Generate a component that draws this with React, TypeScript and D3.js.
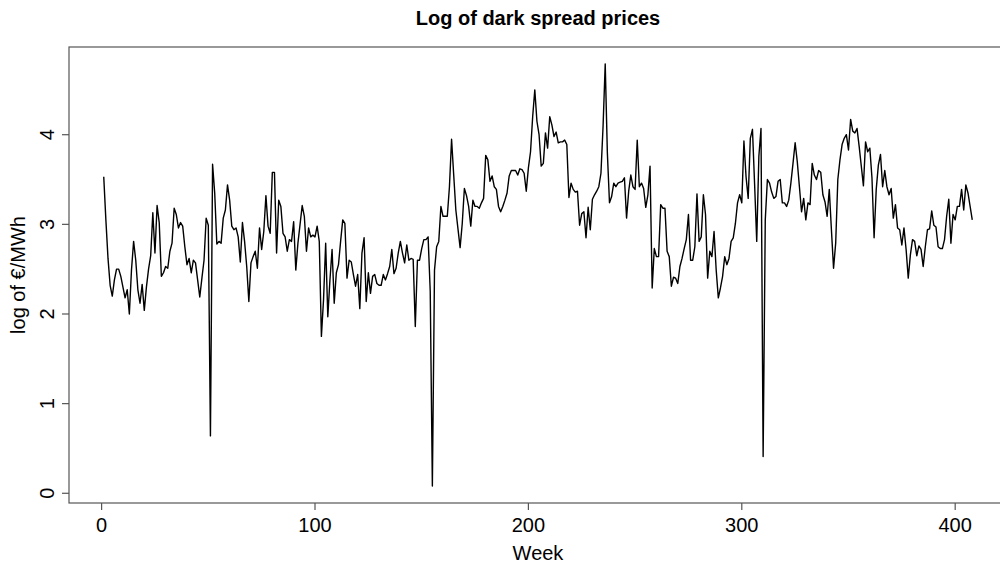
import React from "react";
import * as d3 from "d3";

// Weekly log dark spread prices (log of €/MWh), week 1 .. 408
const logSpread: number[] = [
  3.53, 3.05, 2.62, 2.32, 2.20, 2.38, 2.50, 2.50, 2.42, 2.30,
  2.18, 2.27, 2.00, 2.49, 2.81, 2.60, 2.27, 2.12, 2.33, 2.04,
  2.30, 2.50, 2.65, 3.13, 2.68, 3.21, 3.02, 2.42, 2.46, 2.53,
  2.51, 2.70, 2.79, 3.18, 3.11, 2.96, 3.02, 2.98, 2.75, 2.55,
  2.62, 2.46, 2.60, 2.57, 2.38, 2.19, 2.40, 2.60, 3.07, 2.99,
  0.64, 3.67, 3.35, 2.78, 2.81, 2.79, 3.07, 3.16, 3.44, 3.27,
  2.98, 2.94, 2.96, 2.86, 2.58, 3.02, 2.81, 2.53, 2.14, 2.57,
  2.64, 2.70, 2.51, 2.96, 2.72, 2.92, 3.32, 2.98, 2.90, 3.58,
  3.58, 2.68, 3.27, 3.20, 2.90, 2.86, 2.70, 2.83, 2.81, 3.03,
  2.49, 2.79, 3.00, 3.21, 3.09, 2.70, 2.96, 2.86, 2.88, 2.86,
  2.98, 2.81, 1.75, 2.16, 2.79, 1.97, 2.38, 2.72, 2.12, 2.46,
  2.55, 2.81, 3.05, 3.01, 2.40, 2.60, 2.58, 2.44, 2.31, 2.44,
  2.06, 2.68, 2.85, 2.14, 2.46, 2.23, 2.42, 2.44, 2.34, 2.32,
  2.32, 2.44, 2.38, 2.45, 2.53, 2.72, 2.45, 2.51, 2.68, 2.81,
  2.68, 2.57, 2.77, 2.60, 2.62, 2.61, 1.86, 2.60, 2.60, 2.73,
  2.83, 2.83, 2.86, 2.25, 0.08, 2.49, 2.75, 2.81, 3.20, 3.09,
  3.09, 3.09, 3.42, 3.95, 3.55, 3.16, 2.95, 2.74, 3.01, 3.40,
  3.32, 3.20, 2.98, 3.27, 3.20, 3.20, 3.18, 3.24, 3.29, 3.77,
  3.72, 3.48, 3.54, 3.42, 3.39, 3.20, 3.14, 3.20, 3.27, 3.35,
  3.54, 3.60, 3.60, 3.60, 3.55, 3.62, 3.61, 3.57, 3.37, 3.63,
  3.81, 4.20, 4.50, 4.15, 4.00, 3.65, 3.68, 4.02, 3.85, 4.20,
  4.11, 3.98, 4.03, 3.91, 3.92, 3.92, 3.94, 3.89, 3.30, 3.46,
  3.39, 3.36, 3.37, 2.99, 3.12, 3.14, 2.85, 3.19, 2.94, 3.28,
  3.33, 3.37, 3.42, 3.57, 4.10, 4.79, 3.80, 3.24, 3.31, 3.46,
  3.42, 3.46, 3.47, 3.48, 3.52, 3.07, 3.37, 3.55, 3.42, 3.39,
  3.94, 3.42, 3.46, 3.40, 3.19, 3.33, 3.65, 2.29, 2.73, 2.64,
  2.64, 3.22, 3.18, 3.18, 2.70, 2.64, 2.31, 2.41, 2.40, 2.34,
  2.53, 2.62, 2.73, 2.83, 3.11, 2.60, 2.60, 2.75, 3.34, 2.81,
  2.86, 3.33, 3.11, 2.40, 2.70, 2.64, 2.92, 2.49, 2.18, 2.29,
  2.42, 2.64, 2.55, 2.62, 2.81, 2.85, 3.01, 3.24, 3.33, 3.24,
  3.93, 3.53, 3.29, 3.96, 4.06, 3.45, 2.81, 3.76, 4.07, 0.41,
  3.05, 3.50, 3.46, 3.36, 3.29, 3.31, 3.48, 3.50, 3.24, 3.24,
  3.20, 3.27, 3.46, 3.68, 3.91, 3.70, 3.42, 3.14, 3.29, 3.05,
  3.24, 3.22, 3.68, 3.55, 3.50, 3.60, 3.58, 3.33, 3.25, 3.09,
  3.39, 2.94, 2.51, 2.79, 3.50, 3.72, 3.89, 3.96, 4.00, 3.83,
  4.17, 4.04, 4.02, 4.07, 3.87, 3.65, 3.43, 3.92, 3.81, 3.85,
  3.52, 2.85, 3.39, 3.66, 3.78, 3.42, 3.60, 3.42, 3.33, 3.40,
  3.07, 3.22, 2.96, 2.94, 2.77, 2.96, 2.72, 2.40, 2.66, 2.83,
  2.81, 2.65, 2.76, 2.72, 2.53, 2.75, 2.94, 2.95, 3.15, 2.99,
  2.97, 2.75, 2.73, 2.73, 2.83, 3.09, 3.28, 2.79, 3.11, 3.05,
  3.20, 3.20, 3.39, 3.16, 3.44, 3.35, 3.20, 3.05,
];

const weeks: number[] = logSpread.map((_, i) => i + 1);
const xTicks: number[] = [0, 100, 200, 300, 400];
const yTicks: number[] = [0, 1, 2, 3, 4];

const titleText = "Log of dark spread prices";
const xLabel = "Week";
const yLabel = "log of €/MWh";

const W = 1000;
const H = 565;
const plot = { left: 69, right: 1007, top: 47, bottom: 503 };
const font = "'Liberation Sans', Arial, Helvetica, sans-serif";
const labelSize = 20;

// pad the data range by 4% on each side, as base R plotting does
function padded(ext: [number, number]): [number, number] {
  const r = ext[1] - ext[0];
  return [ext[0] - 0.04 * r, ext[1] + 0.04 * r];
}

export default function App() {
  const x = d3
    .scaleLinear()
    .domain(padded(d3.extent(weeks) as [number, number]))
    .range([plot.left, plot.right]);
  const y = d3
    .scaleLinear()
    .domain(padded(d3.extent(logSpread) as [number, number]))
    .range([plot.bottom, plot.top]);

  const line = d3
    .line<number>()
    .x((_, i) => x(weeks[i]))
    .y((d) => y(d));

  const cx = (plot.left + plot.right) / 2;
  const cy = (plot.top + plot.bottom) / 2;

  return (
    <svg
      width={W}
      height={H}
      viewBox={`0 0 ${W} ${H}`}
      style={{ position: "absolute", left: 0, top: 0, background: "#fff" }}
      fontFamily={font}
    >
      <rect x={0} y={0} width={W} height={H} fill="#fff" />
      <path
        d={line(logSpread) || ""}
        fill="none"
        stroke="#000"
        strokeWidth={1.4}
        strokeLinejoin="round"
      />
      <rect
        x={plot.left}
        y={plot.top}
        width={plot.right - plot.left}
        height={plot.bottom - plot.top}
        fill="none"
        stroke="#555"
        strokeWidth={1.2}
      />
      {xTicks.map((t) => (
        <g key={`xt${t}`}>
          <line
            x1={x(t)}
            x2={x(t)}
            y1={plot.bottom}
            y2={plot.bottom + 7}
            stroke="#555"
            strokeWidth={1.2}
          />
          <text
            x={x(t)}
            y={plot.bottom + 29}
            textAnchor="middle"
            fontSize={labelSize}
            fill="#000"
          >
            {t}
          </text>
        </g>
      ))}
      {yTicks.map((t) => (
        <g key={`yt${t}`}>
          <line
            x1={plot.left - 7}
            x2={plot.left}
            y1={y(t)}
            y2={y(t)}
            stroke="#555"
            strokeWidth={1.2}
          />
          <text
            transform={`translate(${plot.left - 15},${y(t)}) rotate(-90)`}
            textAnchor="middle"
            fontSize={labelSize}
            fill="#000"
          >
            {t}
          </text>
        </g>
      ))}
      <text
        x={cx}
        y={25}
        textAnchor="middle"
        fontSize={20}
        fontWeight="bold"
        fill="#000"
      >
        {titleText}
      </text>
      <text x={cx} y={560} textAnchor="middle" fontSize={labelSize} fill="#000">
        {xLabel}
      </text>
      <text
        transform={`translate(25,${cy}) rotate(-90)`}
        textAnchor="middle"
        fontSize={labelSize}
        fill="#000"
      >
        {yLabel}
      </text>
    </svg>
  );
}
